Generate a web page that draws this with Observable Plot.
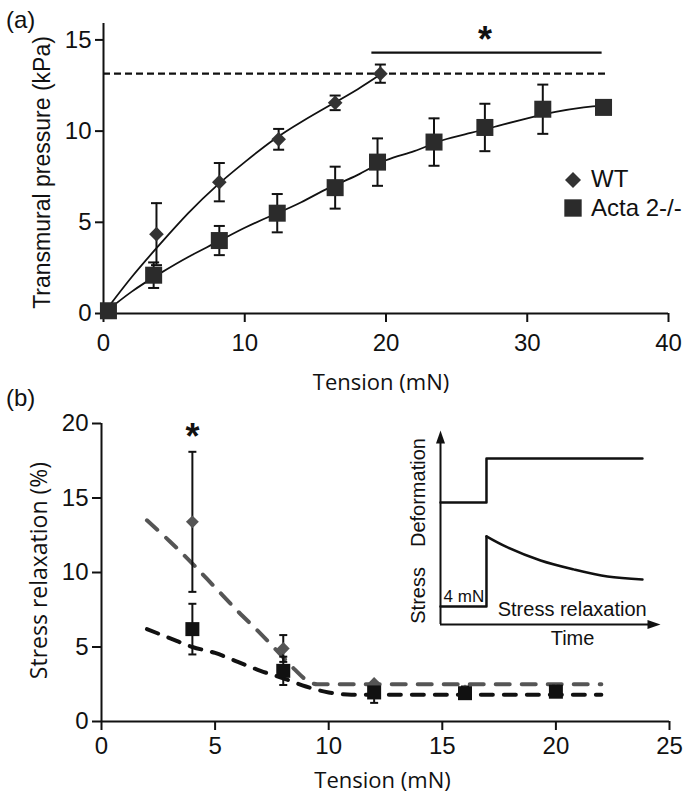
<!DOCTYPE html>
<html><head><meta charset="utf-8">
<script src="https://cdn.jsdelivr.net/npm/d3@7"></script>
<script src="https://cdn.jsdelivr.net/npm/@observablehq/plot@0.6"></script>
<style>
html,body{margin:0;padding:0;background:#fff;overflow:hidden;}
#root{position:relative;width:687px;height:799px;color:#111;}
#root > *{position:absolute;}
.plabel{font-family:"Liberation Sans",Arial,sans-serif;font-size:24px;line-height:1;}
</style></head><body><div id="root"></div>
<script>
// ---------------- Panel (a) data ----------------
const aWT_tension  = [0.3, 3.75, 8.2, 12.4, 16.4, 19.6];
const aWT_pressure = [0.15, 4.35, 7.2, 9.55, 11.55, 13.15];
const aWT_err      = [0, 1.7, 1.05, 0.57, 0.4, 0.5];
const aKO_tension  = [0.35, 3.55, 8.2, 12.3, 16.4, 19.4, 23.4, 27.0, 31.1, 35.4];
const aKO_pressure = [0.15, 2.1, 4.0, 5.5, 6.9, 8.3, 9.4, 10.2, 11.2, 11.3];
const aKO_err      = [0, 0.7, 0.8, 1.05, 1.15, 1.3, 1.3, 1.3, 1.35, 0];
const aWT_fitX = [0, 2, 4, 6, 8, 10, 12, 14, 16, 18, 19.6];
const aWT_fitY = [0, 2.0, 3.8, 5.5, 7.0, 8.3, 9.5, 10.5, 11.4, 12.3, 13.1];
const aKO_fitX = [0, 2, 4, 6, 8, 10, 12, 14, 16, 18, 20, 22, 24, 26, 28, 30, 32, 34, 35.4];
const aKO_fitY = [0, 1.2, 2.2, 3.1, 3.9, 4.7, 5.4, 6.1, 6.9, 7.6, 8.4, 8.9, 9.5, 9.9, 10.3, 10.7, 11.05, 11.3, 11.4];
const aRefLevel = 13.15, aRefEnd = 35.8;          // dashed line at WT maximum
const aSigStart = 19.0, aSigEnd = 35.3, aSigLevel = 14.3, aStarX = 27, aStarY = 15.45;
const aXTicks = [0, 10, 20, 30, 40];
const aYTicks = [0, 5, 10, 15];
const aYTop = 15.9;
const seriesNames = ["WT", "Acta 2-/-"];

// ---------------- Panel (b) data ----------------
const bTension  = [4, 8, 12, 16, 20];
const bWT_relax = [13.4, 4.9, 2.55, 2.05, 2.1];
const bWT_err   = [4.7, 0.9, 0, 0.3, 0.3];
const bKO_relax = [6.2, 3.4, 1.95, 1.9, 2.0];
const bKO_err   = [1.7, 0.95, 0.7, 0.3, 0.3];
const bWT_fitX = [2, 3, 4, 5, 6, 7, 8, 8.5, 9, 9.5, 22];
const bWT_fitY = [13.5, 12.1, 10.6, 9.0, 7.4, 5.9, 4.3, 3.5, 2.8, 2.5, 2.5];
const bKO_fitX = [2, 3, 4, 5, 6, 7, 8, 9, 10, 11, 22];
const bKO_fitY = [6.2, 5.6, 5.0, 4.6, 4.0, 3.4, 2.9, 2.35, 1.95, 1.8, 1.8];
const bStarX = 4, bStarY = 19.7;
const bXTicks = [0, 5, 10, 15, 20, 25];
const bYTicks = [0, 5, 10, 15, 20];

// ---------------- Inset (schematic) data ----------------
const insDeformT = [0, 2.09, 2.09, 9.18];
const insDeformV = [6.29, 6.29, 8.56, 8.56];
const insStepT   = [0, 2.09, 2.09];
const insStepV   = [0.93, 0.93, 4.54];
const insDecayT  = [2.09, 3.05, 4.55, 6.05, 7.59, 9.18];
const insDecayV  = [4.54, 3.97, 3.30, 2.84, 2.47, 2.32];

const zip = (xs, ys, es) => xs.map((x, i) => ({x, y: ys[i], e: es ? es[i] : 0}));
const ARIAL = "Liberation Sans, Arial, Helvetica, sans-serif";
const OPEN = "Open Sans, Noto Sans, sans-serif";
const INK = "#111";

// custom symbols
const capSym = {draw(ctx, size) { const w = Math.sqrt(size / Math.PI); ctx.moveTo(-w, 0); ctx.lineTo(w, 0); }};
const arrowUp = {draw(ctx) { ctx.moveTo(0, 0); ctx.lineTo(4.5, 13); ctx.lineTo(-4.5, 13); ctx.closePath(); }};
const arrowRight = {draw(ctx) { ctx.moveTo(0, 0); ctx.lineTo(-13, 4.5); ctx.lineTo(-13, -4.5); ctx.closePath(); }};

function errorMarks(data, capR, sw, color) {
  const d = data.filter(p => p.e > 0);
  return [
    Plot.ruleX(d, {x: "x", y1: p => p.y - p.e, y2: p => p.y + p.e, stroke: color, strokeWidth: sw}),
    Plot.dot(d, {x: "x", y: p => p.y + p.e, symbol: capSym, r: capR, stroke: color, strokeWidth: sw, fill: "none"}),
    Plot.dot(d, {x: "x", y: p => p.y - p.e, symbol: capSym, r: capR, stroke: color, strokeWidth: sw, fill: "none"})
  ];
}

const root = document.getElementById("root");

// ================= Panel (a) =================
const aWT = zip(aWT_tension, aWT_pressure, aWT_err);
const aKO = zip(aKO_tension, aKO_pressure, aKO_err);
const plotA = Plot.plot({
  width: 687, height: 400,
  marginLeft: 103, marginRight: 19, marginTop: 23, marginBottom: 87,
  style: {background: "transparent", color: INK, overflow: "visible"},
  x: {domain: [0, 40]},
  y: {domain: [0, aYTop]},
  marks: [
    Plot.ruleY([0], {stroke: INK, strokeWidth: 2}),
    Plot.ruleX([0], {y1: 0, y2: aYTop, stroke: INK, strokeWidth: 2}),
    Plot.axisX({ticks: aXTicks, tickSize: 9, tickPadding: 11, fontSize: 24, fontFamily: ARIAL, strokeWidth: 2, label: null}),
    Plot.axisY({ticks: aYTicks, tickSize: 8, tickPadding: 4, fontSize: 24, fontFamily: ARIAL, strokeWidth: 2, label: null}),
    Plot.text(["Tension (mN)"], {frameAnchor: "bottom", dx: -5, dy: 69, fontSize: 22, fontFamily: OPEN, lineAnchor: "middle"}),
    Plot.text(["Transmural pressure (kPa)"], {frameAnchor: "left", dx: -61, dy: 4, rotate: -90, fontSize: 23, fontFamily: ARIAL, lineAnchor: "middle", textAnchor: "middle"}),
    Plot.ruleY([aRefLevel], {x1: 0, x2: aRefEnd, stroke: INK, strokeWidth: 2.2, strokeDasharray: "7,4"}),
    Plot.ruleY([aSigLevel], {x1: aSigStart, x2: aSigEnd, stroke: INK, strokeWidth: 2.2}),
    Plot.text([{x: aStarX, y: aStarY}], {x: "x", y: "y", text: () => "*", fontSize: 36, fontWeight: "bold", fontFamily: ARIAL, lineAnchor: "middle", dy: 9}),
    Plot.line(zip(aWT_fitX, aWT_fitY), {x: "x", y: "y", curve: "natural", stroke: INK, strokeWidth: 1.8}),
    Plot.line(zip(aKO_fitX, aKO_fitY), {x: "x", y: "y", curve: "natural", stroke: INK, strokeWidth: 1.8}),
    ...errorMarks(aWT, 5.5, 2, INK),
    ...errorMarks(aKO, 5.5, 2, INK),
    Plot.dot(aWT, {x: "x", y: "y", symbol: "diamond2", r: 6.6, fill: "#333", stroke: "none"}),
    Plot.dot(aKO, {x: "x", y: "y", symbol: "square", r: 9.6, fill: "#2b2b2b", stroke: "none"})
  ]
});
plotA.style.left = "0px"; plotA.style.top = "0px";
root.appendChild(plotA);

// legend (a)
const leg = d3.create("svg").attr("width", 127).attr("height", 70).style("left", "560px").style("top", "160px");
leg.append("path").attr("d", d3.symbol(d3.symbolDiamond2, Math.PI * 7.2 * 7.2)()).attr("transform", "translate(13,20)").attr("fill", "#333");
leg.append("path").attr("d", d3.symbol(d3.symbolSquare, Math.PI * 9.8 * 9.8)()).attr("transform", "translate(13,48)").attr("fill", "#2b2b2b");
leg.append("text").attr("x", 31).attr("y", 27).text(seriesNames[0]).attr("font-family", ARIAL).attr("font-size", 24).attr("fill", INK);
leg.append("text").attr("x", 31).attr("y", 56).text(seriesNames[1]).attr("font-family", ARIAL).attr("font-size", 24).attr("fill", INK);
root.appendChild(leg.node());

// ================= Panel (b) =================
const bWT = zip(bTension, bWT_relax, bWT_err);
const bKO = zip(bTension, bKO_relax, bKO_err);
const plotB = Plot.plot({
  width: 687, height: 399,
  marginLeft: 101, marginRight: 18, marginTop: 23, marginBottom: 78,
  style: {background: "transparent", color: INK, overflow: "visible"},
  x: {domain: [0, 25]},
  y: {domain: [0, 20]},
  marks: [
    Plot.ruleY([0], {stroke: INK, strokeWidth: 2}),
    Plot.ruleX([0], {y1: 0, y2: 20, stroke: INK, strokeWidth: 2}),
    Plot.axisX({ticks: bXTicks, tickSize: 9, tickPadding: 6, fontSize: 24, fontFamily: ARIAL, strokeWidth: 2, label: null}),
    Plot.axisY({ticks: bYTicks, tickSize: 9, tickPadding: 4, fontSize: 24, fontFamily: ARIAL, strokeWidth: 2, label: null}),
    Plot.text(["Tension (mN)"], {frameAnchor: "bottom", dx: -3, dy: 59, fontSize: 22, fontFamily: OPEN, lineAnchor: "middle"}),
    Plot.text(["Stress relaxation (%)"], {frameAnchor: "left", dx: -62, dy: -2, rotate: -90, fontSize: 23, fontFamily: OPEN, lineAnchor: "middle", textAnchor: "middle"}),
    Plot.line(zip(bWT_fitX, bWT_fitY), {x: "x", y: "y", curve: "monotone-x", stroke: "#555", strokeWidth: 4, strokeDasharray: "14,12"}),
    Plot.line(zip(bKO_fitX, bKO_fitY), {x: "x", y: "y", curve: "monotone-x", stroke: INK, strokeWidth: 4, strokeDasharray: "12,11"}),
    ...errorMarks(bWT, 4, 2, INK),
    ...errorMarks(bKO, 4, 2, INK),
    Plot.dot(bWT, {x: "x", y: "y", symbol: "diamond2", r: 5.8, fill: "#555", stroke: "none"}),
    Plot.dot(bKO, {x: "x", y: "y", symbol: "square", r: 7.9, fill: INK, stroke: "none"}),
    Plot.text([{x: bStarX, y: bStarY}], {x: "x", y: "y", text: () => "*", fontSize: 36, fontWeight: "bold", fontFamily: ARIAL, lineAnchor: "middle", dy: 9})
  ]
});
plotB.style.left = "0px"; plotB.style.top = "400px";
root.appendChild(plotB);

// ================= Inset =================
const insetLabels = [
  {x: -1.0, y: 6.8, text: "Deformation", rotate: -90, anchor: "middle", size: 20},
  {x: -1.0, y: 1.5, text: "Stress", rotate: -90, anchor: "middle", size: 20},
  {x: 0.14, y: 1.44, text: "4 mN", rotate: 0, anchor: "start", size: 17},
  {x: 2.6, y: 0.77, text: "Stress relaxation", rotate: 0, anchor: "start", size: 20},
  {x: 6.0, y: -0.72, text: "Time", rotate: 0, anchor: "middle", size: 20}
];
const inset = Plot.plot({
  width: 300, height: 240,
  marginLeft: 60, marginRight: 20, marginTop: 10, marginBottom: 36,
  style: {background: "transparent", color: INK, overflow: "visible"},
  x: {domain: [0, 10], axis: null},
  y: {domain: [0, 10], axis: null},
  marks: [
    Plot.ruleX([0], {y1: 0, y2: 9.5, stroke: INK, strokeWidth: 2}),
    Plot.ruleY([0], {x1: 0, x2: 9.5, stroke: INK, strokeWidth: 2}),
    Plot.dot([{x: 0, y: 10}], {x: "x", y: "y", symbol: arrowUp, fill: INK, stroke: "none"}),
    Plot.dot([{x: 10, y: 0}], {x: "x", y: "y", symbol: arrowRight, fill: INK, stroke: "none"}),
    Plot.line(zip(insDeformT, insDeformV), {x: "x", y: "y", stroke: INK, strokeWidth: 2.5}),
    Plot.line(zip(insStepT, insStepV), {x: "x", y: "y", stroke: INK, strokeWidth: 2.5}),
    Plot.line(zip(insDecayT, insDecayV), {x: "x", y: "y", curve: "natural", stroke: INK, strokeWidth: 2.5}),
    ...insetLabels.map(l => Plot.text([l], {x: "x", y: "y", text: "text", rotate: l.rotate, textAnchor: l.anchor, lineAnchor: "middle", fontSize: l.size, fontFamily: ARIAL}))
  ]
});
inset.style.left = "380px"; inset.style.top = "420px";
root.appendChild(inset);

// panel letters
for (const [t, x, y] of [["(a)", 6, 8], ["(b)", 6, 386]]) {
  const d = document.createElement("div");
  d.className = "plabel"; d.textContent = t;
  d.style.left = x + "px"; d.style.top = y + "px";
  root.appendChild(d);
}
</script></body></html>
